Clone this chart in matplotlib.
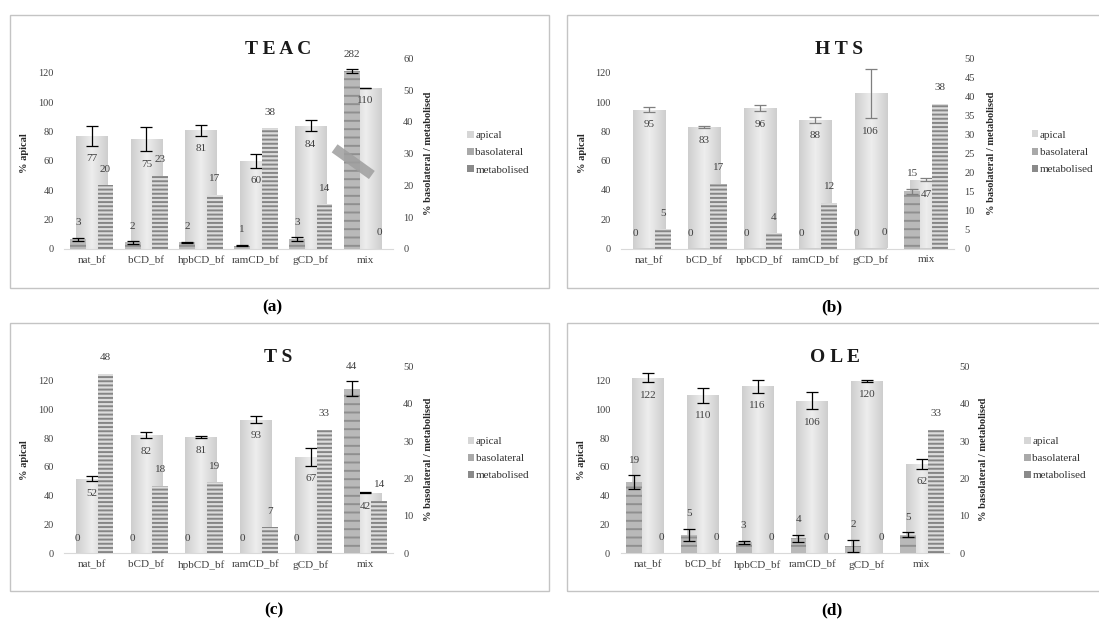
import numpy as np
import matplotlib
matplotlib.use("Agg")
import matplotlib.pyplot as plt
from matplotlib.colors import LinearSegmentedColormap
from matplotlib.patches import Rectangle, Patch

# ---------------- data ----------------
categories = ["nat_bf", "bCD_bf", "hpbCD_bf", "ramCD_bf", "gCD_bf", "mix"]
series_names = ["apical", "basolateral", "metabolised"]

teac_title = "TEAC"
teac_apical = [77, 75, 81, 60, 84, 110]
teac_apical_err = [6.6, 8.3, 3.8, 4.8, 3.8, 0.0]
teac_basolateral = [3, 2, 2, 1, 3, 282]
teac_basolateral_err = [0.5, 0.4, 0.15, 0.2, 0.6, 0.5]
teac_basolateral_break = 56          # height where the 282 bar is cut on the axis
teac_metabolised = [20, 23, 17, 38, 14, 0]
teac_sec_max, teac_sec_step = 60, 10

hts_title = "HTS"
hts_apical = [95, 83, 96, 88, 106, 47]
hts_apical_err = [1.4, 0.5, 2.3, 1.9, 17, 1.1]
hts_basolateral = [0, 0, 0, 0, 0, 15]
hts_basolateral_err = [0, 0, 0, 0, 0, 0.7]
hts_metabolised = [5, 17, 4, 12, 0, 38]
hts_sec_max, hts_sec_step = 50, 5

ts_title = "TS"
ts_apical = [52, 82, 81, 93, 67, 42]
ts_apical_err = [1.7, 2.0, 0.6, 2.2, 6.2, 0.4]
ts_basolateral = [0, 0, 0, 0, 0, 44]
ts_basolateral_err = [0, 0, 0, 0, 0, 2.0]
ts_metabolised = [48, 18, 19, 7, 33, 14]
ts_sec_max, ts_sec_step = 50, 10

ole_title = "OLE"
ole_apical = [122, 110, 116, 106, 120, 62]
ole_apical_err = [3.1, 5.2, 4.5, 5.9, 0.8, 3.3]
ole_basolateral = [19, 5, 3, 4, 2, 5]
ole_basolateral_err = [1.9, 1.6, 0.4, 0.9, 1.65, 0.6]
ole_metabolised = [0, 0, 0, 0, 0, 33]
ole_sec_max, ole_sec_step = 50, 10

primary_max, primary_step, primary_ticks_max = 130, 20, 120
captions = ["(a)", "(b)", "(c)", "(d)"]

# ---------------- style ----------------
plt.rcParams["font.family"] = ["Liberation Serif", "DejaVu Serif"]
plt.rcParams["hatch.linewidth"] = 1.4

W, H = 1099, 624
fig = plt.figure(figsize=(W / 100, H / 100), dpi=100)
fig.patch.set_facecolor("white")

APICAL_EDGE, APICAL_MID = "#cecece", "#eeeeee"
BASO_FACE, BASO_HATCH = "#b9b9b9", "#8f8f8f"
META_FACE, META_HATCH = "#dcdcdc", "#858585"
LBL = "#404040"
PT = 0.72  # points per pixel at dpi 100

ap_cmap = LinearSegmentedColormap.from_list("ap", [APICAL_EDGE, APICAL_MID, APICAL_EDGE])

panels = [
    dict(title=teac_title, ap=teac_apical, ape=teac_apical_err, ba=teac_basolateral,
         bae=teac_basolateral_err, brk=teac_basolateral_break, me=teac_metabolised,
         smax=teac_sec_max, sstep=teac_sec_step, ecol="black",
         box=(64.3, 392.8, 58.3, 248.8), title_xy=(278, 49.5), lab=(24.3, 429),
         leg=(467, 152.7), border=(10.4, 15, 549, 287.5), cap_xy=(272, 307)),
    dict(title=hts_title, ap=hts_apical, ape=hts_apical_err, ba=hts_basolateral,
         bae=hts_basolateral_err, brk=None, me=hts_metabolised,
         smax=hts_sec_max, sstep=hts_sec_step, ecol="#7f7f7f",
         box=(621.3, 954.0, 58.3, 248.5), title_xy=(839, 49.5), lab=(582, 992),
         leg=(1031.5, 152.3), border=(566.8, 15, 1110, 287.5), cap_xy=(832, 307)),
    dict(title=ts_title, ap=ts_apical, ape=ts_apical_err, ba=ts_basolateral,
         bae=ts_basolateral_err, brk=None, me=ts_metabolised,
         smax=ts_sec_max, sstep=ts_sec_step, ecol="black",
         box=(64.3, 392.8, 366.3, 553.3), title_xy=(278, 357), lab=(24.3, 429),
         leg=(467.5, 458.5), border=(10.4, 323.3, 549, 591), cap_xy=(274, 610)),
    dict(title=ole_title, ap=ole_apical, ape=ole_apical_err, ba=ole_basolateral,
         bae=ole_basolateral_err, brk=None, me=ole_metabolised,
         smax=ole_sec_max, sstep=ole_sec_step, ecol="black",
         box=(620.6, 949.2, 366.3, 553.3), title_xy=(835, 357), lab=(581.5, 984),
         leg=(1024, 458.5), border=(566.8, 323.3, 1110, 591), cap_xy=(832, 610)),
]

W_AP, W_SEC, OFF = 0.58, 0.29, 0.2525

for p, cap in zip(panels, captions):
    x0, x1, yt, yb = p["box"]
    ax = fig.add_axes([x0 / W, 1 - yb / H, (x1 - x0) / W, (yb - yt) / H])
    ax2 = ax.twinx()
    x = np.arange(len(categories))
    ap = np.array(p["ap"], float)
    ape = np.array(p["ape"], float)
    ba = np.array(p["ba"], float)
    bae = np.array(p["bae"], float)
    me = np.array(p["me"], float)
    brk = p["brk"]
    ba_disp = np.minimum(ba, brk) if brk is not None else ba.copy()

    # apical bars with horizontal gradient
    bars = ax.bar(x, ap, width=W_AP, color=APICAL_EDGE, linewidth=0, zorder=2)
    grad = np.linspace(0, 1, 128)[None, :]
    for b in bars:
        bx, bw, bh = b.get_x(), b.get_width(), b.get_height()
        im = ax.imshow(grad, extent=[bx, bx + bw, 0, bh], aspect="auto", cmap=ap_cmap,
                       zorder=2.1, interpolation="bilinear")
        im.set_clip_path(b)
    ax.errorbar(x, ap, yerr=ape, fmt="none", ecolor=p["ecol"], elinewidth=0.9,
                capsize=4, capthick=0.9, zorder=3)

    # secondary-axis bars
    ax2.bar(x - OFF, ba_disp, width=W_SEC, color=BASO_FACE, edgecolor=BASO_HATCH,
            linewidth=0, hatch="--", zorder=2)
    ax2.bar(x + OFF, me, width=W_SEC, color=META_FACE, edgecolor=META_HATCH,
            linewidth=0, hatch="----", zorder=2)
    m = ba > 0
    ax2.errorbar((x - OFF)[m], ba_disp[m], yerr=bae[m], fmt="none", ecolor=p["ecol"],
                 elinewidth=0.9, capsize=4, capthick=0.9, zorder=3)

    if brk is not None:
        i = int(np.argmax(ba > brk))
        bx = x[i] - OFF
        ax2.plot([bx - 0.31, bx + 0.37], [brk * 0.565, brk * 0.415], color="#9e9e9e",
                 alpha=0.85, lw=7.2, solid_capstyle="butt", zorder=4)

    # data labels
    for i in range(len(categories)):
        ax2.annotate(f"{ap[i]:g}", xy=(x[i], ap[i] - ape[i]), xycoords=ax.transData,
                     xytext=(0, -13 * PT), textcoords="offset points", ha="center",
                     va="center", fontsize=8, color=LBL, zorder=6)
        ax2.annotate(f"{ba[i]:g}", xy=(x[i] - OFF, ba_disp[i] + bae[i]),
                     xytext=(0, 15 * PT), textcoords="offset points", ha="center",
                     va="center", fontsize=8, color=LBL, zorder=6)
        ax2.annotate(f"{me[i]:g}", xy=(x[i] + OFF, me[i]),
                     xytext=(0, 16 * PT), textcoords="offset points", ha="center",
                     va="center", fontsize=8, color=LBL, zorder=6)

    ax.set_xlim(-0.5, len(categories) - 0.5)
    ax.set_ylim(0, primary_max)
    ax.set_yticks(np.arange(0, primary_ticks_max + 1, primary_step))
    ax2.set_ylim(0, p["smax"])
    ax2.set_yticks(np.arange(0, p["smax"] + 0.1, p["sstep"]))
    ax.set_xticks(x)
    ax.set_xticklabels(categories)

    for s in ["top", "left", "right"]:
        ax.spines[s].set_visible(False)
    for s in ax2.spines.values():
        s.set_visible(False)
    ax.spines["bottom"].set_color("#d9d9d9")
    ax.spines["bottom"].set_linewidth(0.8)
    ax.tick_params(axis="both", length=0, colors=LBL)
    ax.tick_params(axis="y", pad=7.5, labelsize=7.5)
    ax.tick_params(axis="x", pad=5, labelsize=8)
    ax2.tick_params(axis="y", length=0, pad=7.5, labelsize=7.5, colors=LBL)
    ax.patch.set_visible(False)

    w = x1 - x0
    ax.set_ylabel("% apical", fontsize=7.5, fontweight="bold", color="#262626")
    ax.yaxis.set_label_coords((p["lab"][0] + 5 - x0) / w, 0.5)
    ax2.set_ylabel("% basolateral / metabolised", fontsize=7.5, fontweight="bold",
                   color="#262626")
    ax2.yaxis.set_label_coords((p["lab"][1] - 5 - x0) / w, 0.5)

    # title
    fig.text(p["title_xy"][0] / W, 1 - p["title_xy"][1] / H, " ".join(p["title"]),
             ha="center", va="center", fontsize=14, fontweight="bold", color="#1a1a1a")

    # legend
    handles = [Patch(facecolor="#d6d6d6"), Patch(facecolor="#a9a9a9"),
               Patch(facecolor="#8a8a8a")]
    fig.legend(handles, series_names, loc="center left",
               bbox_to_anchor=(p["leg"][0] / W, 1 - p["leg"][1] / H), frameon=False,
               fontsize=8, handlelength=0.6, handleheight=0.6, handletextpad=0.15,
               labelspacing=0.7, borderpad=0, borderaxespad=0, labelcolor="#333333")

    # panel border
    bx0, by0, bx1, by1 = p["border"]
    fig.add_artist(Rectangle((bx0 / W, 1 - by1 / H), (bx1 - bx0) / W, (by1 - by0) / H,
                             transform=fig.transFigure, fill=False, edgecolor="#c4c4c4",
                             linewidth=1.0))
    # caption
    fig.text(p["cap_xy"][0] / W, 1 - p["cap_xy"][1] / H, cap, ha="center", va="center",
             fontsize=12.5, fontweight="bold", color="black")

fig.savefig("out.png", dpi=100)
